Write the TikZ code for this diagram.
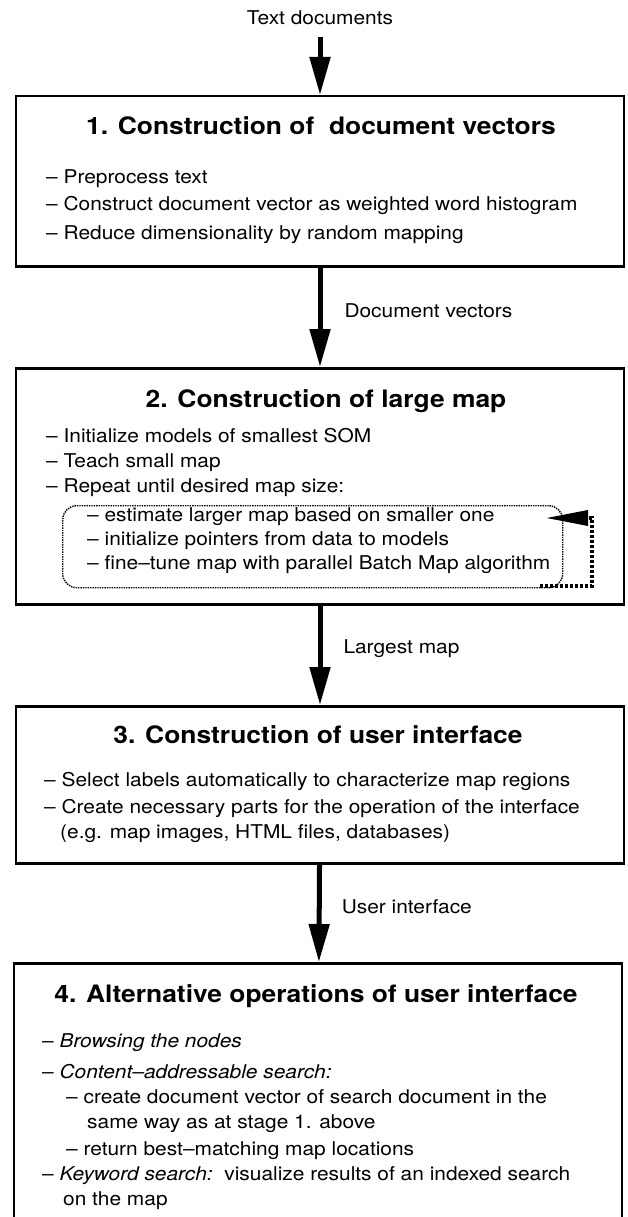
\documentclass[tikz,border=0pt]{standalone}
\usepackage{fontspec}
\setmainfont{TeX Gyre Heros}[FakeStretch=1.1]
\usetikzlibrary{arrows.meta}
\begin{document}
\begin{tikzpicture}[x=1pt, y=-1pt, >={Triangle[length=38pt,width=20pt]},
  box/.style={draw, line width=2.5pt, minimum width=608pt, inner sep=0pt, anchor=north},
  ttl/.style={font=\fontsize{24}{29}\selectfont\bfseries, anchor=base, inner sep=0pt},
  txt/.style={font=\fontsize{19}{23}\selectfont, anchor=base west, inner sep=0pt},
  flow/.style={->, line width=5pt}]
\clip (0,0) rectangle (628,1217);

\node[txt, anchor=base] (src) at (320,25) {Text documents};

% stage 1
\node[box, minimum height=170pt] (b1) at (320,95) {};
\node[ttl] (t1) at (321,135) {1. Construction of\ \ document vectors};
\node[txt] (i1a) at (46,183) {-- Preprocess text};
\node[txt] (i1b) at (46,211) {-- Construct document vector as weighted word histogram};
\node[txt] (i1c) at (46,239) {-- Reduce dimensionality by random mapping};

% stage 2
\node[box, minimum height=236pt] (b2) at (320,367) {};
\node[ttl] (t2) at (326,407) {2. Construction of large map};
\node[txt] (i2a) at (46,442) {-- Initialize models of smallest SOM};
\node[txt] (i2b) at (46,467) {-- Teach small map};
\node[txt] (i2c) at (46,492) {-- Repeat until desired map size:};
\node[draw, densely dotted, line width=1.4pt, rounded corners=14pt, minimum width=500pt,
  minimum height=82pt, anchor=north west] (loop) at (62,505) {};
\node[txt] (i2d) at (87,521) {-- estimate larger map based on smaller one};
\node[txt] (i2e) at (87,545) {-- initialize pointers from data to models};
\node[txt] (i2f) at (87,569) {-- fine--tune map with parallel Batch Map algorithm};
\coordinate (la) at (540,586);
\coordinate (lb) at (592,586);
\coordinate (lc) at (592,518);
\coordinate (ld) at (546,518);
\draw[-{Triangle[length=42pt,width=15pt]}, line width=3.5pt, dash pattern=on 3pt off 2pt]
  (la) -- (lb) -- (lc) -- (ld);

% stage 3
\node[box, minimum height=157pt] (b3) at (320,705) {};
\node[ttl] (t3) at (318,743) {3. Construction of user interface};
\node[txt] (i3a) at (44,786) {-- Select labels automatically to characterize map regions};
\node[txt] (i3b) at (44,813) {-- Create necessary parts for the operation of the interface};
\node[txt] (i3c) at (60,838) {(e.g. map images, HTML files, databases)};

% stage 4
\node[box, minimum height=300pt] (b4) at (318,962) {};
\node[ttl] (t4) at (316,1002) {4. Alternative operations of user interface};
\node[txt] (i4a) at (42,1047) {-- \textit{Browsing the nodes}};
\node[txt] (i4b) at (42,1078) {-- \textit{Content--addressable search:}};
\node[txt] (i4c) at (66,1103) {-- create document vector of search document in the};
\node[txt] (i4d) at (87,1128) {same way as at stage 1. above};
\node[txt] (i4e) at (66,1155) {-- return best--matching map locations};
\node[txt] (i4f) at (42,1180) {-- \textit{Keyword search:}\ \ visualize results of an indexed search};
\node[txt] (i4g) at (63,1205) {on the map};

% connectors
\draw[flow, shorten <=12pt] (src) -- (b1);
\draw[flow] (b1) -- (b2) node[txt, pos=0.43, anchor=west, xshift=22pt] (l1) {Document vectors};
\draw[flow] (b2) -- (b3) node[txt, pos=0.43, anchor=west, xshift=21pt] (l2) {Largest map};
\draw[flow] (b3) -- (b4) node[txt, pos=0.43, anchor=west, xshift=20pt] (l3) {User interface};

\end{tikzpicture}
\end{document}
